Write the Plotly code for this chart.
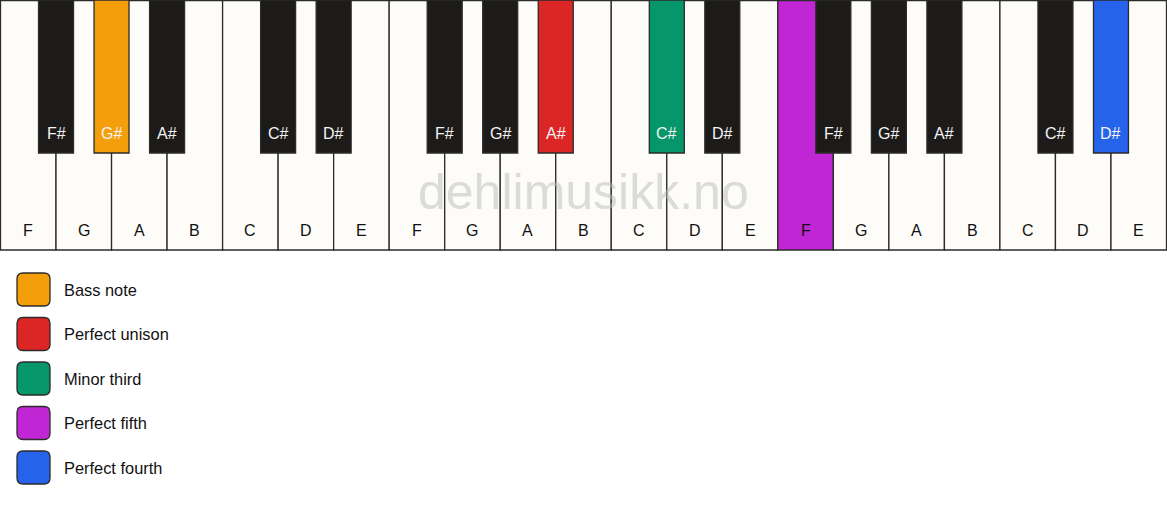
import plotly.graph_objects as go

# keyboard: three octaves F..E
white_notes = ["F", "G", "A", "B", "C", "D", "E"] * 3
black_notes = ["F#", "G#", "A#", "C#", "D#"] * 3
black_after = [0, 1, 2, 4, 5, 7, 8, 9, 11, 12, 14, 15, 16, 18, 19]  # white key index left of each black key

# highlighted keys -> legend idx
hl_black = {1: 0, 7: 1, 8: 2, 14: 4}   # G#1, A#2, C#2, D#3
hl_white = {14: 3}                      # F3

legend_labels = ["Bass note", "Perfect unison", "Minor third", "Perfect fifth", "Perfect fourth"]
legend_colors = ["#f59e0b", "#dc2626", "#059669", "#c026d3", "#2563eb"]

WHITE_FILL = "#fdfcf9"
BLACK_FILL = "#1c1b19"
EDGE = "#2b2b2b"
FONT = "Liberation Sans, Arial, sans-serif"

W_H = 250
B_H = 153
B_HALF = 0.315

fig = go.Figure()
shapes = []
annotations = []

for i, n in enumerate(white_notes):
    fill = legend_colors[hl_white[i]] if i in hl_white else WHITE_FILL
    shapes.append(dict(type="rect", xref="x", yref="y", x0=i, x1=i + 1, y0=0.5, y1=W_H,
                       fillcolor=fill, line=dict(color=EDGE, width=1.3), layer="below"))
    annotations.append(dict(x=i + 0.5, y=230, xref="x", yref="y", text=n, showarrow=False,
                            font=dict(family=FONT, size=16, color="#111111")))

for j, n in enumerate(black_notes):
    c = black_after[j] + 1
    fill = legend_colors[hl_black[j]] if j in hl_black else BLACK_FILL
    shapes.append(dict(type="rect", xref="x", yref="y", x0=c - B_HALF, x1=c + B_HALF, y0=0, y1=B_H,
                       fillcolor=fill, line=dict(color=EDGE, width=1.3), layer="below"))
    annotations.append(dict(x=c, y=133, xref="x", yref="y", text=n, showarrow=False,
                            font=dict(family=FONT, size=16, color="#f4f4f4")))

# watermark
annotations.append(dict(x=10.5, y=192, xref="x", yref="y", text="dehlimusikk.no", showarrow=False,
                        font=dict(family=FONT, size=50, color="rgba(185,185,185,0.5)")))

# legend (pixel coords on x2)
r = 6
for k, (lab, col) in enumerate(zip(legend_labels, legend_colors)):
    x0, x1 = 17, 50
    y0 = 273 + 44.5 * k
    y1 = y0 + 33
    path = (f"M {x0 + r},{y0} L {x1 - r},{y0} Q {x1},{y0} {x1},{y0 + r} "
            f"L {x1},{y1 - r} Q {x1},{y1} {x1 - r},{y1} L {x0 + r},{y1} "
            f"Q {x0},{y1} {x0},{y1 - r} L {x0},{y0 + r} Q {x0},{y0} {x0 + r},{y0} Z")
    shapes.append(dict(type="path", xref="x2", yref="y", path=path, fillcolor=col,
                       line=dict(color=EDGE, width=1.3)))
    annotations.append(dict(x=62, y=(y0 + y1) / 2, xref="x2", yref="y", text=lab, showarrow=False,
                            xanchor="left", font=dict(family=FONT, size=16.4, color="#111111")))

fig.add_trace(go.Scatter(x=[0], y=[0], mode="markers", marker=dict(opacity=0), hoverinfo="skip",
                         showlegend=False))
fig.add_trace(go.Scatter(x=[0], y=[0], xaxis="x2", mode="markers", marker=dict(opacity=0),
                         hoverinfo="skip", showlegend=False))

fig.update_layout(
    width=1167, height=506,
    margin=dict(l=0, r=0, t=0, b=0),
    paper_bgcolor="white", plot_bgcolor="white",
    shapes=shapes, annotations=annotations,
    xaxis=dict(range=[-0.009, 21.009], visible=False, fixedrange=True),
    xaxis2=dict(range=[0, 1167], overlaying="x", visible=False, fixedrange=True),
    yaxis=dict(range=[506, 0], visible=False, fixedrange=True),
    showlegend=False,
)

fig.write_html("out.html", config={"displayModeBar": False},
               post_script="document.body.style.margin='0';document.body.style.overflow='hidden';")
